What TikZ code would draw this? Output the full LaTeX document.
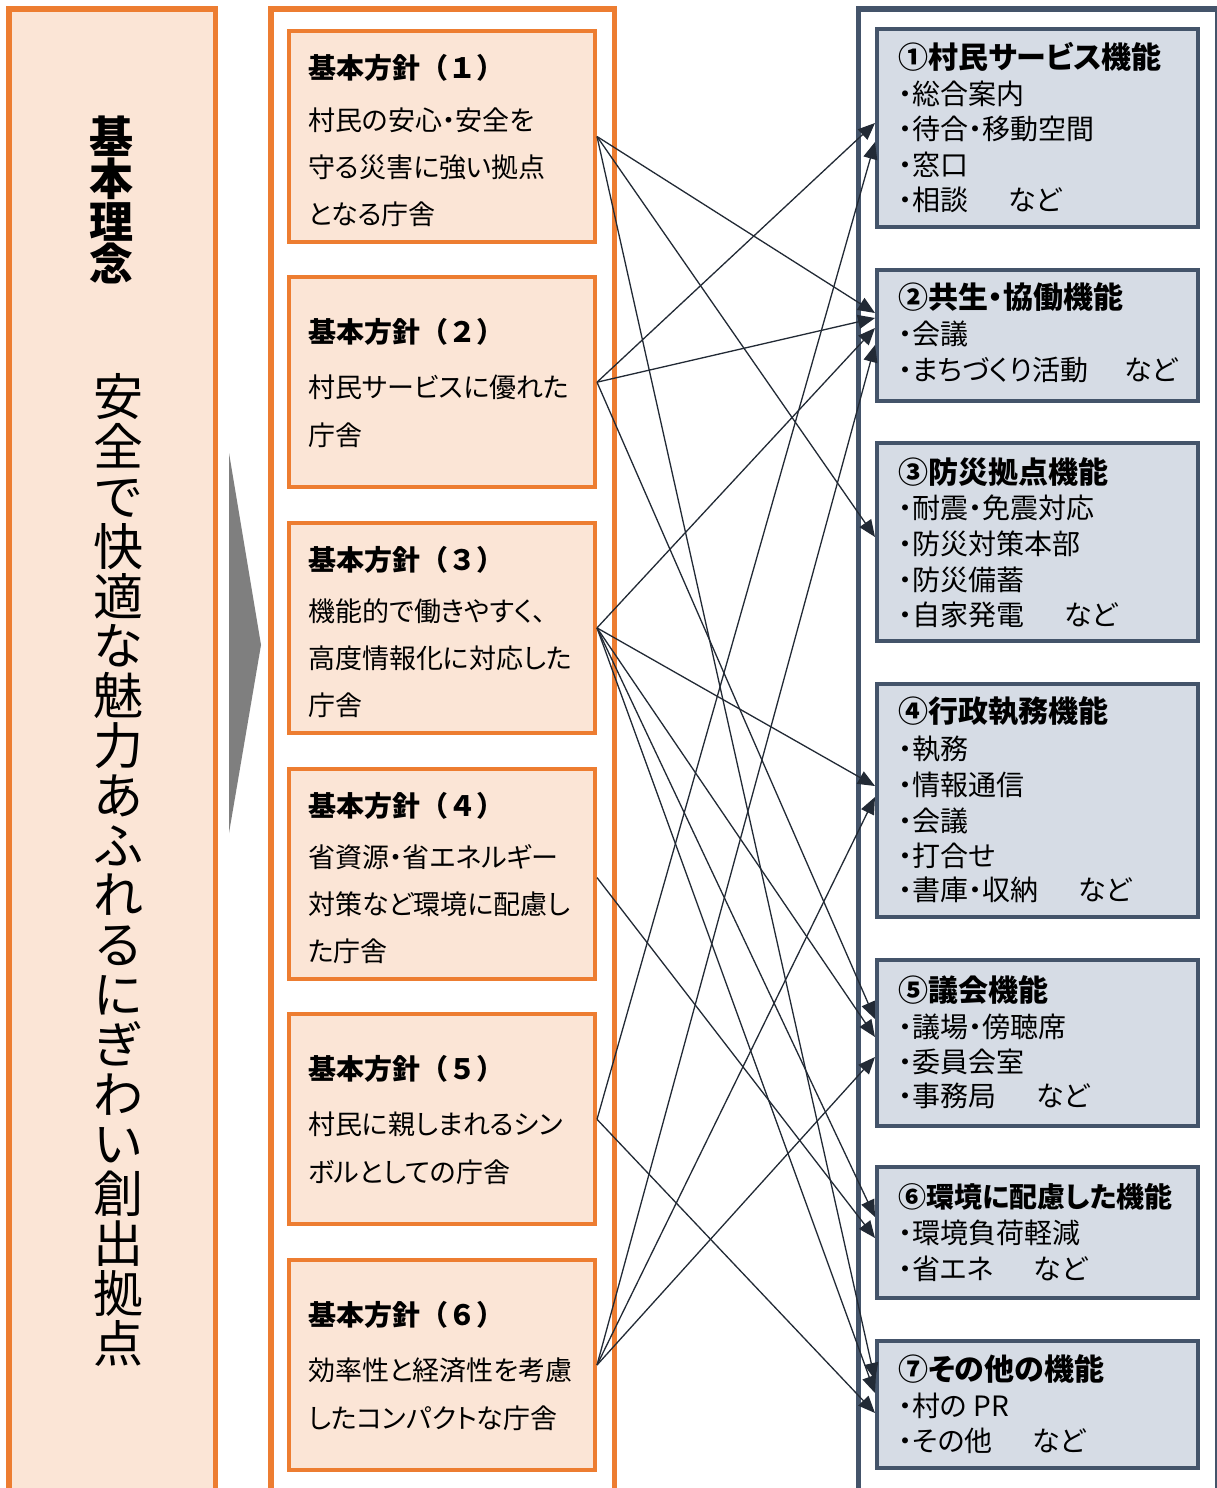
\documentclass[tikz,border=0pt]{standalone}
\usepackage{fontspec}
\usetikzlibrary{arrows.meta}
\newfontfamily\jpp{Noto Sans CJK JP}[RawFeature=+palt]
\newfontfamily\jpf{Noto Sans CJK JP}
\definecolor{org}{HTML}{ED7D31}
\definecolor{peach}{HTML}{FBE5D6}
\definecolor{slate}{HTML}{44546A}
\definecolor{pale}{HTML}{D6DCE5}
\definecolor{ink}{HTML}{222A35}
\definecolor{chev}{HTML}{7F7F7F}
\begin{document}
\begin{tikzpicture}[x=1pt,y=-1pt,
  pbox/.style={draw=org, fill=peach, line width=4pt, minimum width=306pt, minimum height=210pt, inner sep=0pt},
  fbox/.style={draw=slate, fill=pale, line width=4pt, minimum width=321pt, inner sep=0pt},
  phead/.style={anchor=base west, inner sep=0pt, font=\jpf\bfseries\fontsize{28}{28}\selectfont},
  ptxt/.style={anchor=base west, inner sep=0pt, font=\jpp\fontsize{27}{27}\selectfont},
  fhead/.style={anchor=base west, inner sep=0pt, font=\jpp\bfseries\fontsize{30}{30}\selectfont},
  fitem/.style={anchor=base west, inner sep=0pt, font=\jpp\fontsize{28}{28}\selectfont},
  link/.style={draw=ink, line width=1.3pt, -{Triangle[length=17pt,width=14pt]}}
]
\useasboundingbox (0,0) rectangle (1217,1488);
\clip (0,0) rectangle (1217,1488);
\fill[white] (0,0) rectangle (1217,1488);

% columns
\draw[org, fill=peach, line width=5.5pt] (9,9) rectangle (215.5,1500);
\draw[org, fill=white, line width=5.5pt] (271,9) rectangle (614.5,1500);
\draw[slate, fill=white, line width=5.5pt] (858.5,9) rectangle (1217.5,1500);

% left column text
\node[font={\jpf\bfseries\fontsize{44}{42.3}\selectfont\lineskiplimit=-100pt}, align=center, inner sep=0pt] (kihon) at (111,200) {基\\本\\理\\念};
\node[font={\jpf\fontsize{50}{49.8}\selectfont\lineskiplimit=-100pt}, align=center, inner sep=0pt] (theme) at (118.5,870) {安\\全\\で\\快\\適\\な\\魅\\力\\あ\\ふ\\れ\\る\\に\\ぎ\\わ\\い\\創\\出\\拠\\点};

% gray arrow
\fill[chev] (229,453) -- (229,833) -- (261,645) -- cycle;

% middle boxes
\node[pbox] (p1) at (442,136.5) {};
\node[pbox] (p2) at (442,382.2) {};
\node[pbox] (p3) at (442,627.9) {};
\node[pbox] (p4) at (442,873.6) {};
\node[pbox] (p5) at (442,1119.3) {};
\node[pbox] (p6) at (442,1365) {};

\node[phead] (p1h) at (308,78.9) {基本方針（１）};
\node[ptxt] (p1a) at (308,130.5) {村民の安心・安全を};
\node[ptxt] (p1b) at (308,177.5) {守る災害に強い拠点};
\node[ptxt] (p1c) at (308,224.5) {となる庁舎};

\node[phead] (p2h) at (308,342.6) {基本方針（２）};
\node[ptxt] (p2a) at (308,397.2) {村民サービスに優れた};
\node[ptxt] (p2b) at (308,445.2) {庁舎};

\node[phead] (p3h) at (308,570.3) {基本方針（３）};
\node[ptxt] (p3a) at (308,621.9) {機能的で働きやすく、};
\node[ptxt] (p3b) at (308,668.9) {高度情報化に対応した};
\node[ptxt] (p3c) at (308,715.9) {庁舎};

\node[phead] (p4h) at (308,816) {基本方針（４）};
\node[ptxt] (p4a) at (308,867.6) {省資源・省エネルギー};
\node[ptxt] (p4b) at (308,914.6) {対策など環境に配慮し};
\node[ptxt] (p4c) at (308,961.6) {た庁舎};

\node[phead] (p5h) at (308,1079.7) {基本方針（５）};
\node[ptxt] (p5a) at (308,1134.3) {村民に親しまれるシン};
\node[ptxt] (p5b) at (308,1182.3) {ボルとしての庁舎};

\node[phead] (p6h) at (308,1325.4) {基本方針（６）};
\node[ptxt] (p6a) at (308,1380) {効率性と経済性を考慮};
\node[ptxt] (p6b) at (308,1428) {したコンパクトな庁舎};

% right boxes
\node[fbox, minimum height=198pt] (f1) at (1037.5,128) {};
\node[fbox, minimum height=131pt] (f2) at (1037.5,335.5) {};
\node[fbox, minimum height=198pt] (f3) at (1037.5,542) {};
\node[fbox, minimum height=233pt] (f4) at (1037.5,800.5) {};
\node[fbox, minimum height=166pt] (f5) at (1037.5,1043) {};
\node[fbox, minimum height=131pt] (f6) at (1037.5,1232.5) {};
\node[fbox, minimum height=127pt] (f7) at (1037.5,1404.5) {};

\node[fhead] (f1h) at (898,68.2) {①村民サービス機能};
\node[fitem] (f1a) at (898,104.4) {・総合案内};
\node[fitem] (f1b) at (898,139.4) {・待合・移動空間};
\node[fitem] (f1c) at (898,175.4) {・窓口};
\node[fitem] (f1d) at (898,210.4) {・相談\hspace*{40pt}など};

\node[fhead] (f2h) at (898,308.2) {②共生・協働機能};
\node[fitem] (f2a) at (898,344.4) {・会議};
\node[fitem] (f2b) at (898,380.4) {・まちづくり活動\hspace*{36pt}など};

\node[fhead] (f3h) at (898,483.2) {③防災拠点機能};
\node[fitem] (f3a) at (898,518.4) {・耐震・免震対応};
\node[fitem] (f3b) at (898,554.4) {・防災対策本部};
\node[fitem] (f3c) at (898,590.4) {・防災備蓄};
\node[fitem] (f3d) at (898,625.4) {・自家発電\hspace*{40pt}など};

\node[fhead] (f4h) at (898,722.2) {④行政執務機能};
\node[fitem] (f4a) at (898,759.4) {・執務};
\node[fitem] (f4b) at (898,795.4) {・情報通信};
\node[fitem] (f4c) at (898,831.4) {・会議};
\node[fitem] (f4d) at (898,866.4) {・打合せ};
\node[fitem] (f4e) at (898,900.4) {・書庫・収納\hspace*{40pt}など};

\node[fhead] (f5h) at (898,1001.2) {⑤議会機能};
\node[fitem] (f5a) at (898,1037.4) {・議場・傍聴席};
\node[fitem] (f5b) at (898,1072.4) {・委員会室};
\node[fitem] (f5c) at (898,1106.4) {・事務局\hspace*{40pt}など};

\node[fhead, font=\jpp\bfseries\fontsize{28}{28}\selectfont] (f6h) at (898,1207.6) {⑥環境に配慮した機能};
\node[fitem] (f6a) at (898,1243.4) {・環境負荷軽減};
\node[fitem] (f6b) at (898,1279.4) {・省エネ\hspace*{40pt}など};

\node[fhead] (f7h) at (898,1380.2) {⑦その他の機能};
\node[fitem] (f7a) at (898,1416.4) {・村の PR};
\node[fitem] (f7b) at (898,1451.4) {・その他\hspace*{40pt}など};

% connectors
\draw[link] (p1.east) -- ([yshift=22.5pt]f2.west);
\draw[link] (p1.east) -- ([yshift=5pt]f3.west);
\draw[link] (p1.east) -- ([yshift=24.5pt]f7.west);
\draw[link] (p2.east) -- ([yshift=5pt]f1.west);
\draw[link] (p2.east) -- ([yshift=17.5pt]f2.west);
\draw[link] (p2.east) -- ([yshift=24pt]f5.west);
\draw[link] (p3.east) -- ([yshift=7.5pt]f2.west);
\draw[link] (p3.east) -- ([yshift=14.5pt]f4.west);
\draw[link] (p3.east) -- ([yshift=6pt]f5.west);
\draw[link] (p3.east) -- ([yshift=15.5pt]f6.west);
\draw[link] (p3.east) -- ([yshift=11.5pt]f7.west);
\draw[link] ([yshift=-4pt]p4.east) -- ([yshift=-5.5pt]f6.west);
\draw[link] (p5.east) -- ([yshift=-14pt]f1.west);
\draw[link] (p5.east) -- ([yshift=-8.5pt]f7.west);
\draw[link] (p6.east) -- ([yshift=-9.5pt]f2.west);
\draw[link] (p6.east) -- ([yshift=3.5pt]f4.west);
\draw[link] (p6.east) -- ([yshift=-14pt]f5.west);
\end{tikzpicture}
\end{document}
